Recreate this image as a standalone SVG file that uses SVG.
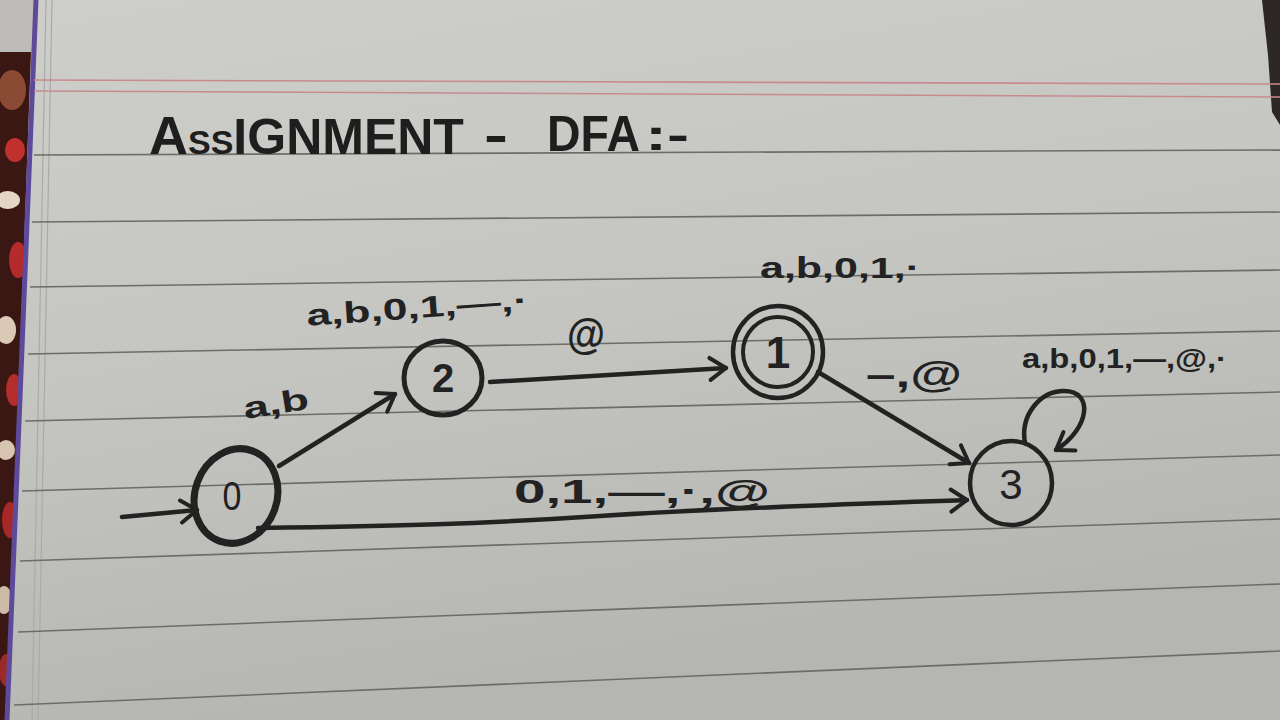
<svg xmlns="http://www.w3.org/2000/svg" width="1280" height="720" viewBox="0 0 1280 720">
<defs>
<linearGradient id="paper" x1="0" y1="0" x2="0.3" y2="1">
<stop offset="0" stop-color="#cecfcb"/>
<stop offset="0.5" stop-color="#c5c5c2"/>
<stop offset="1" stop-color="#b5b5b2"/>
</linearGradient>
<clipPath id="fabricClip"><polygon points="0,52 31,52 7,720 0,720"/></clipPath>
<marker id="chev" viewBox="0 0 20 24" refX="17" refY="12" markerWidth="20" markerHeight="24" markerUnits="userSpaceOnUse" orient="auto" overflow="visible">
<path d="M1,1 L17,12 L1,23" fill="none" stroke="#222" stroke-width="4" stroke-linecap="round" stroke-linejoin="round"/>
</marker>
<style>
.rule{stroke:#6c6d69;stroke-width:1.6;fill:none}
.red{stroke:#c98a8e;stroke-width:1.6;fill:none}
.ink{stroke:#222;fill:none;stroke-linecap:round;stroke-linejoin:round}
.edge{stroke:#222;fill:none;stroke-width:4.5;stroke-linecap:round;marker-end:url(#chev)}
.lbl{font-family:"Liberation Sans","DejaVu Sans",sans-serif;font-weight:bold;fill:#222}
.num{font-family:"Liberation Sans","DejaVu Sans",sans-serif;fill:#222;text-anchor:middle}
.title{font-family:"Liberation Sans","DejaVu Sans",sans-serif;font-weight:bold;fill:#1e1e1e}
</style>
</defs>

<!-- paper -->
<rect width="1280" height="720" fill="url(#paper)"/>
<rect x="0" y="0" width="34" height="60" fill="#bdbcba"/>
<g clip-path="url(#fabricClip)">
<rect x="0" y="52" width="40" height="668" fill="#3b1714"/>
<ellipse cx="12" cy="90" rx="14" ry="20" fill="#8a4a33"/>
<ellipse cx="15" cy="150" rx="10" ry="12" fill="#c0302e"/>
<ellipse cx="8" cy="200" rx="12" ry="9" fill="#e3d6c6"/>
<ellipse cx="18" cy="260" rx="9" ry="18" fill="#b52b2b"/>
<ellipse cx="6" cy="330" rx="10" ry="14" fill="#d9c9b5"/>
<ellipse cx="14" cy="390" rx="8" ry="16" fill="#b42d2d"/>
<ellipse cx="6" cy="450" rx="9" ry="10" fill="#d6c4b0"/>
<ellipse cx="10" cy="520" rx="8" ry="18" fill="#a82828"/>
<ellipse cx="4" cy="600" rx="8" ry="14" fill="#cdbba6"/>
<ellipse cx="6" cy="670" rx="7" ry="16" fill="#9c2a28"/>
</g>
<line x1="36" y1="0" x2="7" y2="720" stroke="#5d4a9a" stroke-width="5"/>
<line x1="46" y1="0" x2="32" y2="720" stroke="#aaaaa8" stroke-width="1.2"/>
<line x1="52" y1="0" x2="38" y2="720" stroke="#aaaaa8" stroke-width="1.2"/>
<polygon points="1262,0 1280,0 1280,125 1272,112 1268,55" fill="#2d2825"/>

<!-- ruled lines -->
<g id="rules">
<line class="red" x1="34" y1="80" x2="1280" y2="84"/>
<line class="red" x1="34" y1="91" x2="1280" y2="97"/>
<line class="rule" x1="34" y1="155" x2="1280" y2="150"/>
<line class="rule" x1="32" y1="222" x2="1280" y2="212"/>
<line class="rule" x1="30" y1="287" x2="1280" y2="270"/>
<line class="rule" x1="28" y1="354" x2="1280" y2="331"/>
<line class="rule" x1="25" y1="421" x2="1280" y2="392"/>
<line class="rule" x1="22" y1="491" x2="1280" y2="455"/>
<line class="rule" x1="20" y1="561" x2="1280" y2="519"/>
<line class="rule" x1="18" y1="632" x2="1280" y2="584"/>
<line class="rule" x1="14" y1="705" x2="1280" y2="651"/>
</g>

<!-- title -->
<g id="title">
<text class="title" x="149" y="154" font-size="54">A<tspan font-size="34">SS</tspan><tspan font-size="50">IGNMENT</tspan></text>
<text class="title" x="484" y="152" font-size="50" textLength="24" lengthAdjust="spacingAndGlyphs">-</text>
<text class="title" x="547" y="151" font-size="50" textLength="93" lengthAdjust="spacingAndGlyphs">DFA</text>
<text class="title" x="645" y="150" font-size="44" textLength="44" lengthAdjust="spacingAndGlyphs">:-</text>
</g>

<!-- connectors -->
<g id="connectors">
<line class="edge" x1="122" y1="517" x2="197" y2="510"/>
<line class="edge" x1="279" y1="466" x2="395" y2="394"/>
<line class="edge" x1="490" y1="382" x2="726" y2="368"/>
<line class="edge" x1="818" y1="372" x2="969" y2="463"/>
<path class="edge" d="M258,528 C400,526 480,524 600,516 S880,503 967,500"/>
<path class="edge" d="M1025,443 C1020,415 1040,391 1064,391 C1094,391 1090,428 1056,450"/>
<text class="lbl" x="243" y="414" font-size="30" textLength="66" lengthAdjust="spacingAndGlyphs" transform="rotate(-9 276 404)">a,b</text>
<text class="lbl" x="306" y="318" font-size="30" textLength="222" lengthAdjust="spacingAndGlyphs" transform="rotate(-4 417 305)">a,b,0,1,—,·</text>
<text class="lbl" x="567" y="349" font-size="42" font-weight="normal" textLength="38" lengthAdjust="spacingAndGlyphs">@</text>
<text class="lbl" x="760" y="278" font-size="30" textLength="160" lengthAdjust="spacingAndGlyphs">a,b,0,1,·</text>
<text class="lbl" x="866" y="387" font-size="36" font-weight="normal" textLength="96" lengthAdjust="spacingAndGlyphs">–,@</text>
<text class="lbl" x="1022" y="368" font-size="28" textLength="205" lengthAdjust="spacingAndGlyphs">a,b,0,1,—,@,·</text>
<text class="lbl" x="514" y="503" font-size="34" textLength="256" lengthAdjust="spacingAndGlyphs">0,1,—,·,@</text>
</g>

<!-- nodes -->
<g id="node-0">
<ellipse class="ink" cx="236" cy="496" rx="41" ry="48" stroke-width="7" transform="rotate(20 236 496)"/>
<text class="num" x="232" y="510" font-size="40" transform="scale(0.85 1) translate(41 0)">0</text>
</g>
<g id="node-2">
<ellipse class="ink" cx="443" cy="378" rx="39" ry="37" stroke-width="5"/>
<text class="num" x="443" y="392" font-size="40" font-weight="bold">2</text>
</g>
<g id="node-1">
<ellipse class="ink" cx="778" cy="352" rx="45" ry="46" stroke-width="4.5"/>
<ellipse class="ink" cx="778" cy="352" rx="35" ry="35" stroke-width="4"/>
<text class="num" x="778" y="368" font-size="44" font-weight="bold">1</text>
</g>
<g id="node-3">
<ellipse class="ink" cx="1011" cy="483" rx="41" ry="42" stroke-width="4.5"/>
<text class="num" x="1011" y="499" font-size="42">3</text>
</g>
</svg>
